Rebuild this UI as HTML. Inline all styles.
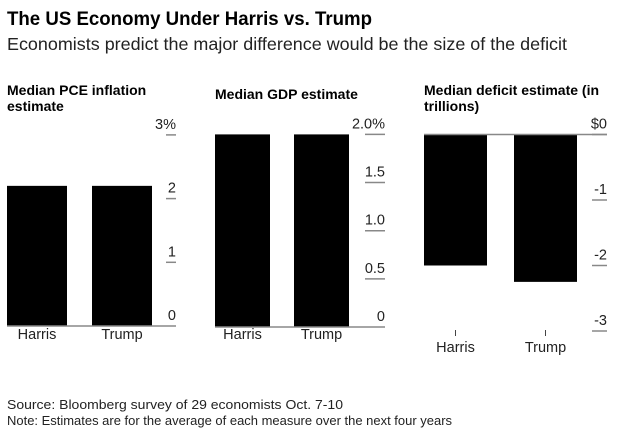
<!DOCTYPE html>
<html><head><meta charset="utf-8"><style>
body{margin:0;background:#fff;width:618px;height:437px;overflow:hidden;font-family:"Liberation Sans",Arial,sans-serif}
</style></head><body>
<svg width="618" height="437" font-family="Liberation Sans, Arial, sans-serif">
<text x="7" y="25" font-size="19" font-weight="bold" fill="#000" textLength="365" lengthAdjust="spacingAndGlyphs">The US Economy Under Harris vs. Trump</text>
<text x="7" y="50" font-size="17.5" fill="#222" textLength="560" lengthAdjust="spacingAndGlyphs">Economists predict the major difference would be the size of the deficit</text>
<text x="7" y="95" font-size="14" font-weight="bold">Median PCE inflation</text>
<text x="7" y="111" font-size="14" font-weight="bold">estimate</text>
<text x="215" y="99" font-size="14" font-weight="bold">Median GDP estimate</text>
<text x="424" y="95" font-size="14" font-weight="bold">Median deficit estimate (in</text>
<text x="424" y="111" font-size="14" font-weight="bold">trillions)</text>
<g id="g1"></g><g id="g2"></g><g id="g3"></g>
<text x="7" y="409" font-size="13" fill="#222" textLength="336" lengthAdjust="spacingAndGlyphs">Source: Bloomberg survey of 29 economists Oct. 7-10</text>
<text x="7" y="425" font-size="13" fill="#222" textLength="445" lengthAdjust="spacingAndGlyphs">Note: Estimates are for the average of each measure over the next four years</text>
</svg>
<script>
const categories=["Harris","Trump"];
const pceValues=[2.2,2.2];
const pceTicks=[0,1,2,3];
const pceTickLabels=["0","1","2","3%"];
const gdpValues=[2.0,2.0];
const gdpTicks=[0,0.5,1.0,1.5,2.0];
const gdpTickLabels=["0","0.5","1.0","1.5","2.0%"];
const deficitValues=[-2.0,-2.25];
const deficitTicks=[0,-1,-2,-3];
const deficitTickLabels=["$0","-1","-2","-3"];
const NS="http://www.w3.org/2000/svg";
function mk(g,t,a){const e=document.createElementNS(NS,t);for(const k in a)e.setAttribute(k,a[k]);g.appendChild(e);return e;}
function panel(id,vals,ticks,labels,o){
 const g=document.getElementById(id);
 const y=v=>o.y0-(v-o.v0)*o.k;
 ticks.forEach((t,i)=>{
  const ty=y(t);
  if(!(o.skipZeroLine&&t===0)){const l=mk(g,"line",{x1:o.tx1,x2:o.tx2,y1:ty,y2:ty,stroke:"#888","stroke-width":1.5});
  
  }
  const tx=mk(g,"text",{x:o.tx2,y:ty-6,"font-size":14.5,"text-anchor":"end",fill:"#222"});
  tx.textContent=labels[i];
  
  
 });
 vals.forEach((v,i)=>{
  const a=y(0),b=y(v);
  const r=mk(g,"rect",{x:o.bx[i],width:o.bw,y:Math.min(a,b),height:Math.abs(a-b),fill:"#000"});
  
  
  const t=mk(g,"text",{x:o.bx[i]+o.bw/2,y:o.ly,"font-size":14.5,"text-anchor":"middle",fill:"#222"});
  t.textContent=categories[i];
  
  
  if(o.catTick){const c=mk(g,"line",{x1:o.bx[i]+o.bw/2,x2:o.bx[i]+o.bw/2,y1:330,y2:336,stroke:"#444","stroke-width":1});
  
  }
 });
 const base=mk(g,"line",{x1:o.bx[0],x2:o.tx2,y1:y(0),y2:y(0),stroke:"#888","stroke-width":1.5});
 
 
}
panel("g1",pceValues,pceTicks,pceTickLabels,{v0:0,y0:326,k:63.7,bx:[7,92],bw:60,tx1:166,tx2:176,ly:339,skipZeroLine:true});
panel("g2",gdpValues,gdpTicks,gdpTickLabels,{v0:0,y0:327,k:96.3,bx:[215,294],bw:55,tx1:365,tx2:385,ly:339,skipZeroLine:true});
panel("g3",deficitValues,deficitTicks,deficitTickLabels,{v0:0,y0:134.5,k:65.5,bx:[424,514],bw:63,tx1:592,tx2:607,ly:352,catTick:true});
</script>
</body></html>
